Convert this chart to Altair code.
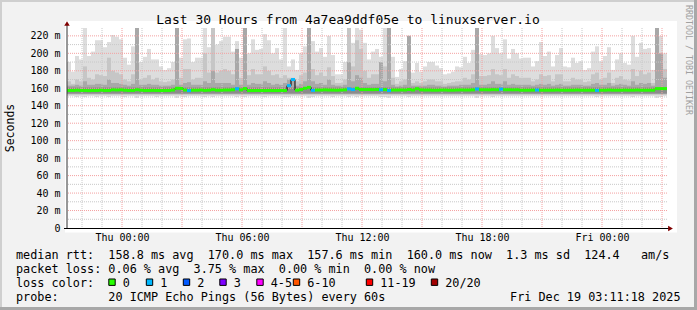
import altair as alt
import pandas as pd

MONO = "DejaVu Sans Mono"

# ---------------- data (one value per 12-minute step, 30 hours) ----------------
smoke_max = [
    190, 179, 197, 193, 229, 197, 202, 215, 215, 207,
    213, 221, 219, 216, 195, 187, 208, 229, 190, 196,
    205, 193, 193, 185, 181, 183, 190, 229, 195, 216,
    217, 190, 195, 195, 229, 207, 229, 210, 214, 219,
    219, 202, 214, 195, 229, 200, 216, 204, 205, 222,
    215, 200, 206, 193, 229, 185, 193, 181, 200, 208,
    229, 214, 202, 206, 196, 220, 198, 176, 176, 190,
    229, 212, 229, 227, 212, 193, 202, 205, 196, 229,
    229, 196, 173, 182, 191, 220, 178, 189, 179, 185,
    190, 190, 186, 183, 176, 177, 179, 185, 184, 196,
    189, 204, 229, 199, 198, 200, 220, 206, 200, 216,
    194, 205, 200, 194, 195, 195, 185, 191, 213, 197,
    202, 185, 198, 206, 185, 184, 195, 189, 191, 181,
    183, 202, 208, 191, 197, 207, 181, 193, 200, 189,
    187, 220, 196, 212, 205, 206, 181, 229, 220, 200,
]
smoke_mid = [
    168, 165, 170, 168, 185, 172, 170, 176, 175, 174,
    195, 180, 178, 176, 170, 168, 176, 229, 170, 172,
    175, 170, 172, 168, 167, 168, 170, 229, 172, 182,
    182, 170, 172, 172, 200, 178, 229, 178, 180, 182,
    180, 176, 205, 172, 229, 175, 182, 176, 176, 185,
    180, 175, 176, 172, 175, 172, 172, 168, 175, 178,
    229, 182, 175, 178, 174, 184, 174, 166, 166, 170,
    229, 185, 215, 205, 180, 172, 176, 176, 190, 185,
    229, 172, 165, 168, 170, 220, 166, 168, 166, 168,
    170, 170, 168, 168, 165, 166, 167, 168, 168, 172,
    170, 176, 229, 174, 174, 175, 182, 176, 175, 182,
    172, 176, 174, 172, 172, 172, 168, 170, 176, 174,
    175, 168, 176, 176, 168, 168, 172, 170, 170, 167,
    168, 176, 178, 170, 172, 178, 166, 172, 174, 170,
    169, 182, 174, 180, 176, 178, 166, 229, 195, 182,
]
smoke_dark = [
    163, 163, 164, 163, 168, 164, 164, 165, 165, 164,
    170, 166, 166, 165, 164, 163, 165, 229, 164, 164,
    165, 164, 164, 163, 163, 163, 164, 229, 164, 166,
    167, 164, 164, 164, 168, 166, 180, 166, 166, 166,
    166, 164, 205, 164, 229, 164, 166, 165, 165, 168,
    166, 164, 165, 164, 166, 170, 170, 163, 165, 168,
    229, 168, 165, 166, 164, 170, 164, 163, 163, 164,
    190, 168, 175, 172, 166, 164, 165, 165, 190, 168,
    229, 164, 162, 163, 164, 220, 163, 163, 163, 163,
    164, 164, 163, 163, 162, 163, 163, 163, 164, 164,
    164, 166, 229, 164, 164, 165, 168, 165, 165, 168,
    164, 165, 164, 164, 164, 164, 163, 164, 165, 164,
    165, 163, 164, 165, 163, 163, 164, 164, 164, 163,
    163, 165, 166, 164, 164, 166, 163, 164, 165, 164,
    163, 168, 164, 166, 165, 166, 163, 229, 200, 172,
]
smoke_min = [
    151, 151, 150, 151, 150, 151, 151, 150, 151, 151,
    150, 151, 151, 151, 150, 151, 151, 149, 151, 151,
    151, 151, 150, 151, 151, 151, 151, 149, 151, 150,
    151, 151, 151, 151, 150, 151, 150, 151, 151, 151,
    151, 151, 150, 151, 150, 151, 151, 151, 151, 150,
    151, 151, 151, 151, 150, 150, 151, 151, 151, 151,
    149, 150, 151, 151, 151, 151, 150, 151, 151, 151,
    150, 151, 150, 151, 151, 151, 151, 151, 150, 150,
    149, 151, 151, 151, 151, 150, 151, 151, 151, 151,
    151, 151, 151, 151, 151, 151, 151, 151, 151, 151,
    151, 151, 149, 151, 151, 151, 150, 151, 151, 151,
    151, 151, 151, 151, 151, 151, 151, 151, 151, 151,
    151, 151, 151, 151, 151, 151, 151, 151, 151, 151,
    151, 151, 150, 151, 151, 151, 151, 151, 151, 151,
    151, 150, 151, 151, 151, 151, 151, 149, 150, 151,
]
median_rtt = [
    157.5, 157.5, 157.8, 157.5, 157.5, 157.3, 157.5, 157.5, 157.8, 157.5,
    157.5, 158.2, 158.0, 158.2, 157.8, 157.5, 157.5, 158.3, 157.8, 157.5,
    157.5, 157.6, 157.5, 157.4, 157.5, 157.5, 158.0, 160.0, 159.8, 158.0,
    157.3, 157.8, 157.8, 158.0, 157.6, 157.8, 158.4, 157.8, 157.8, 158.0,
    158.0, 158.3, 159.5, 158.2, 159.6, 157.4, 157.4, 157.5, 157.4, 157.4,
    157.5, 157.4, 157.4, 157.5, 157.4, 163.0, 170.0, 157.8, 158.5, 160.0,
    161.0, 157.6, 158.0, 158.0, 158.2, 158.0, 157.9, 157.8, 158.0, 158.2,
    159.3, 158.5, 160.0, 158.5, 158.5, 158.5, 158.4, 158.6, 158.3, 158.5,
    157.4, 158.0, 158.0, 158.1, 158.0, 158.6, 158.0, 159.5, 158.2, 158.0,
    158.0, 157.8, 157.8, 158.0, 158.0, 157.8, 157.8, 158.0, 158.1, 158.0,
    158.0, 158.2, 159.2, 158.3, 158.3, 158.2, 158.4, 158.3, 159.0, 158.3,
    158.3, 158.2, 158.3, 157.8, 157.8, 157.8, 157.9, 158.0, 157.8, 157.8,
    157.8, 157.8, 158.0, 157.8, 157.8, 157.8, 157.8, 158.0, 157.8, 157.8,
    157.8, 157.8, 157.6, 157.8, 157.8, 158.0, 157.8, 157.8, 157.8, 157.9,
    157.8, 157.8, 158.0, 157.8, 157.8, 157.8, 157.8, 159.6, 159.6, 159.6,
]
# steps in which 1 of 20 pings was lost
loss_one_steps = [30, 42, 55, 56, 61, 70, 71, 78, 80, 102, 108, 117, 132]

loss_labels = ["0", "1", "2", "3", "4-5", "6-10", "11-19", "20/20"]
loss_colors = ["#26ff00", "#00b8ff", "#0059ff", "#7e00ff",
               "#ff00ff", "#ff5500", "#ff0000", "#a10000"]

# x axis: hours since Wed 21:15
tick_hours = [2.75, 8.75, 14.75, 20.75, 26.75]
tick_labels = ["Thu 00:00", "Thu 06:00", "Thu 12:00", "Thu 18:00", "Fri 00:00"]
y_ticks = [0, 20, 40, 60, 80, 100, 120, 140, 160, 180, 200, 220]
grid_major_y = [20, 40, 60, 80, 100, 120, 140, 160, 180, 200, 220]
grid_minor_y = [10, 30, 50, 70, 90, 110, 130, 150, 170, 190, 210]
grid_major_x = [2.75 + 3 * k for k in range(10)]
grid_minor_x = [0.75 + k for k in range(30) if (k - 2) % 3 != 0]

title_text = "Last 30 Hours from 4a7ea9ddf05e to linuxserver.io"
row1 = "median rtt:  158.8 ms avg  170.0 ms max  157.6 ms min  160.0 ms now  1.3 ms sd  124.4   am/s"
row2 = "packet loss: 0.06 % avg  3.75 % max  0.00 % min  0.00 % now"
row3 = "loss color:"
row4 = "probe:       20 ICMP Echo Pings (56 Bytes) every 60s"
stamp = "Fri Dec 19 03:11:18 2025"
side_text = "RRDTOOL / TOBI OETIKER"

# ---------------- tables ----------------
STEP_H = 0.2
n = len(smoke_max)
df = pd.DataFrame({
    "t0": [i * STEP_H for i in range(n)],
    "t1": [(i + 1) * STEP_H for i in range(n)],
    "smin": smoke_min, "smax": smoke_max, "smid": smoke_mid,
    "sdark": smoke_dark, "median": median_rtt,
    "loss": ["1" if i in loss_one_steps else "0" for i in range(n)],
})
df["clo"] = 154.0
df["chi"] = 161.0
df["mlo"] = 152.5
df["dlo"] = 153.5

line_rows = []
for i in range(n):
    line_rows.append({"t": i * STEP_H, "m": median_rtt[i], "o": 2 * i})
    line_rows.append({"t": (i + 1) * STEP_H, "m": median_rtt[i], "o": 2 * i + 1})
df_line = pd.DataFrame(line_rows)

x_scale = alt.Scale(domain=[0, 30], nice=False, zero=False)
y_scale = alt.Scale(domain=[0, 229], nice=False, zero=True)
label_expr = "%s[indexof(%s, datum.value)]" % (str(tick_labels), str(tick_hours))
x_axis = alt.Axis(values=tick_hours, labelExpr=label_expr, grid=False, domain=False,
                  ticks=False, tickSize=0, labelFont=MONO, labelFontSize=10,
                  labelColor="black", labelPadding=12.5, labelBaseline="alphabetic",
                  labelOverlap=False, labelFlush=False, title=None)
y_axis = alt.Axis(values=y_ticks,
                  labelExpr="datum.value == 0 ? '0' : datum.value + ' m'",
                  grid=False, domain=False, ticks=False, tickSize=0, labelFont=MONO,
                  labelFontSize=10, labelColor="black", labelPadding=7,
                  labelAlign="right", labelBaseline="middle", labelOverlap=False,
                  labelFlush=False, title=None)


def X(f):
    return alt.X(f, type="quantitative", scale=x_scale, axis=x_axis)


def Y(f):
    return alt.Y(f, type="quantitative", scale=y_scale, axis=y_axis)


base = alt.Chart(df)
dummy = pd.DataFrame({"d": [0]})


def rect(x, x2, y, y2, color):
    return alt.Chart(dummy).mark_rect(color=color).encode(
        x=alt.value(x), x2=alt.value(x2), y=alt.value(y), y2=alt.value(y2))


def txt(s, x, y, size=11.8, align="left", angle=0, color="black", baseline="alphabetic"):
    d = pd.DataFrame({"s": [s.replace(" ", "\u00a0")]})
    return alt.Chart(d).mark_text(align=align, baseline=baseline, font=MONO,
                                  fontSize=size, color=color, angle=angle).encode(
        text="s:N", x=alt.value(x), y=alt.value(y))


layers = []
# frame shading and canvas
layers.append(rect(-67, 630, -28, -26, "#cfcfcf"))
layers.append(rect(-67, -65, -28, 282, "#cfcfcf"))
layers.append(rect(-67, 630, 279, 282, "#a8a8a8"))
layers.append(rect(627, 630, -28, 282, "#a8a8a8"))
layers.append(rect(-2, 610, -7, 204.5, "#ffffff"))

# smoke
layers.append(base.mark_rect(color="#dddddd", clip=True).encode(
    x=X("t0"), x2="t1", y=Y("smin"), y2="smax"))
layers.append(base.mark_rect(color="#c6c6c6", clip=True).encode(
    x=X("t0"), x2="t1", y=Y("mlo"), y2="smid"))
layers.append(base.mark_rect(color="#a8a8a8", clip=True).encode(
    x=X("t0"), x2="t1", y=Y("dlo"), y2="sdark"))
layers.append(base.mark_rect(color="#8c8c8c", clip=True).encode(
    x=X("t0"), x2="t1", y=Y("clo"), y2="chi"))

# grid (drawn over the smoke)
for vals, col, ch in [(grid_minor_y, "#c8c8c8", "y"), (grid_minor_x, "#c8c8c8", "x"),
                      (grid_major_y, "#f4a0a0", "y"), (grid_major_x, "#f4a0a0", "x")]:
    g = alt.Chart(pd.DataFrame({"v": vals})).mark_rule(
        color=col, strokeWidth=1, strokeDash=[1, 1])
    if ch == "y":
        layers.append(g.encode(y=Y("v")))
    else:
        layers.append(g.encode(x=X("v")))

# median
layers.append(alt.Chart(df_line).mark_line(color="black", strokeWidth=1).encode(
    x=X("t"), y=Y("m"), order="o:Q"))
layers.append(base.mark_rule(strokeWidth=3, strokeCap="butt").encode(
    x=X("t0"), x2="t1", y=Y("median"),
    color=alt.Color("loss:N", scale=alt.Scale(domain=loss_labels, range=loss_colors),
                    legend=None)))

# axes lines and arrows
layers.append(alt.Chart(dummy).mark_rule(color="#303030", strokeWidth=1).encode(
    x=alt.value(0), y=alt.value(201), y2=alt.value(-4)))
layers.append(alt.Chart(dummy).mark_rule(color="black", strokeWidth=1).encode(
    x=alt.value(-3), x2=alt.value(602), y=alt.value(200.5)))
layers.append(alt.Chart(dummy).mark_point(shape="triangle-up", filled=True, size=30,
                                          color="#7f0000", opacity=1).encode(
    x=alt.value(0), y=alt.value(-4.5)))
layers.append(alt.Chart(dummy).mark_point(shape="triangle-right", filled=True, size=30,
                                          color="#7f0000", opacity=1).encode(
    x=alt.value(603.5), y=alt.value(200.5)))

# texts
layers.append(txt(title_text, 281, -4, size=13, align="center"))
layers.append(txt("Seconds", -56, 100, size=11.5, align="center", angle=270,
                  baseline="middle"))
layers.append(txt(side_text, 621, -23, size=8.3, align="left", angle=90,
                  color="#a0a0a0", baseline="middle"))
layers.append(txt(row1, -51, 231))
layers.append(txt(row2, -51, 245))
layers.append(txt(row3, -51, 259))
layers.append(txt(row4, -51, 273))
layers.append(txt(stamp, 613.5, 273, align="right"))

# loss colour legend
legend_box_x = [45, 82.5, 119.5, 156, 193, 229.5, 302.5, 367.5]
for lab, col, bx in zip(loss_labels, loss_colors, legend_box_x):
    layers.append(alt.Chart(dummy).mark_square(size=41, fill=col, stroke="black",
                                               strokeWidth=1, opacity=1).encode(
        x=alt.value(bx), y=alt.value(254.2)))
    layers.append(txt(lab, bx + 10.7, 259))

chart = alt.layer(*layers).properties(
    width=600, height=200,
    padding={"left": 67, "top": 28, "right": 30, "bottom": 82},
    autosize=alt.AutoSizeParams(type="none"),
    background="#f2f2f2",
).configure_view(stroke=None, fill=None)

chart.save("out.html", embed_options={"renderer": "svg", "actions": False})
